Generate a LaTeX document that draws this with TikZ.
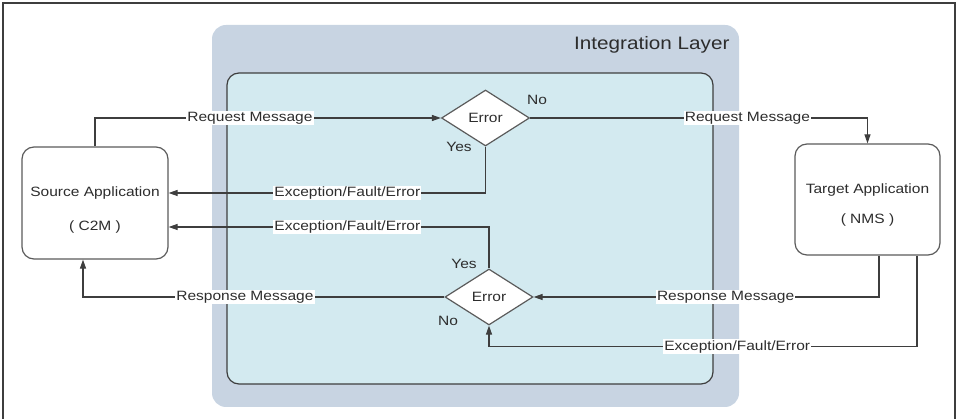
\documentclass[tikz,border=0pt]{standalone}
\usepackage{fontspec}
\setmainfont{Liberation Sans}[FakeStretch=1.15]
\usetikzlibrary{shapes.geometric,arrows.meta}
\definecolor{outerbl}{RGB}{200,212,226}
\definecolor{innercy}{RGB}{211,234,240}
\definecolor{ink}{RGB}{62,62,62}
\definecolor{txt}{RGB}{45,45,45}
\begin{document}
\begin{tikzpicture}[x=1pt,y=-1pt,
 box/.style={draw=ink!85, line width=1.2pt, rounded corners=12pt, fill=white, inner sep=0pt},
 dia/.style={diamond, draw=ink!85, line width=1.2pt, fill=white, minimum width=88pt, minimum height=56pt, inner sep=0pt, font=\fontsize{13.5}{15}\selectfont, text=txt},
 conn/.style={draw=ink, line width=1.1pt, -{Triangle[length=9pt,width=6pt]}},
 lab/.style={fill=white, inner sep=1pt, font=\fontsize{13.5}{15}\selectfont, text=txt},
 yn/.style={font=\fontsize{13.5}{15}\selectfont, text=txt, inner sep=0pt},
 ]
\useasboundingbox (0,0) rectangle (959,419);
\draw[line width=1.5pt, ink] (3,423) -- (3,3) -- (955,3) -- (955,423);

% containers
\node (layer) [rectangle, fill=outerbl, rounded corners=14pt, inner sep=0pt, minimum width=527pt, minimum height=382pt] at (475.5,216) {};
\node (inner) [rectangle, fill=innercy, draw=ink, line width=1.2pt, rounded corners=12pt, inner sep=0pt, minimum width=486pt, minimum height=311pt] at (470,228.5) {};
\node[anchor=base east, font=\fontsize{18}{20}\selectfont, text=txt] (title) at (733,50) {Integration Layer};

% applications
\node[box, minimum width=146pt, minimum height=112pt] (src) at (95,203) {};
\node[lab, fill=none] (srcA) at (95,193) {Source Application};
\node[lab, fill=none] (srcB) at (95,227) {( C2M )};
\node[box, minimum width=145pt, minimum height=111pt] (tgt) at (867.5,199.5) {};
\node[lab, fill=none] (tgtA) at (867.5,190) {Target Application};
\node[lab, fill=none] (tgtB) at (867.5,220) {( NMS )};

% decisions
\node[dia] (d1) at (485.5,118) {Error};
\node[dia] (d2) at (489,297) {Error};
\node[yn] (d1no) at (537,100) {No};
\node[yn] (d1yes) at (459,147) {Yes};
\node[yn] (d2yes) at (464,264) {Yes};
\node[yn] (d2no) at (448,321) {No};

% connectors
\draw[conn] (src.north) |- node[lab, pos=0.724] {Request Message} (d1.west);
\draw[conn] (d1.east) -| node[lab, pos=0.322] {Request Message} (tgt.north);
\draw[conn] (d1.south) |- node[lab, pos=0.718] {Exception/Fault/Error} ([yshift=10pt]src.east);
\draw[conn] (d2.north) |- node[lab, pos=0.721] {Exception/Fault/Error} ([yshift=-24pt]src.east);
\draw[conn] (d2.west) -| node[lab, pos=0.276] {Response Message} ([xshift=-12pt]src.south);
\draw[conn] ([xshift=11.5pt]tgt.south) |- node[lab, pos=0.722] {Response Message} (d2.east);
\draw[conn] ([xshift=49.5pt]tgt.south) |- node[lab, pos=0.71] {Exception/Fault/Error} ([yshift=-21pt]d2.south) -- (d2.south);
\end{tikzpicture}
\end{document}
